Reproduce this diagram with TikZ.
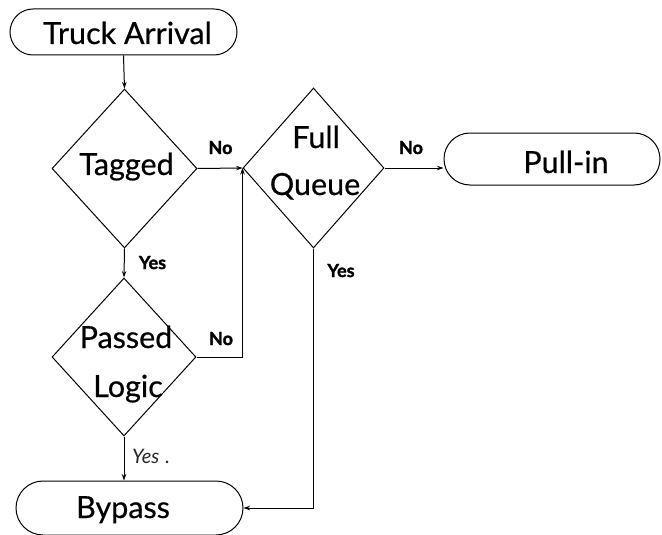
\documentclass[tikz,border=0pt]{standalone}
\usepackage{fontspec}
\setmainfont{Lato}[UprightFeatures={FakeBold=0.5}, BoldFeatures={FakeBold=1.6}]
\usetikzlibrary{shapes.geometric,shapes.misc,arrows.meta}

\tikzset{
  flow/.style={draw=black, line width=1pt},
  arr/.style={flow, -{Stealth[length=6.5pt,width=4.5pt]}},
  terminal/.style={rounded rectangle, draw=black, line width=1pt, inner sep=0pt},
  decision/.style={diamond, draw=black, line width=1pt, inner sep=0pt},
  caption/.style={anchor=base, inner sep=0pt, font=\fontsize{30.5}{33}\selectfont},
  answer/.style={anchor=base, inner sep=0pt, font=\fontsize{18}{20}\selectfont\bfseries},
  softanswer/.style={anchor=base west, inner sep=0pt, text=black!85, font=\fontsize{20}{22}\selectfont\itshape\mdseries},
}

\begin{document}
\begin{tikzpicture}[x=1pt, y=-1pt]
\useasboundingbox (0,0) rectangle (662,535);

% terminals
\node[terminal, minimum width=227pt, minimum height=46pt] (truck) at (123.5,32) {};
\node[terminal, minimum width=216pt, minimum height=52pt] (pull) at (552,159) {};
\node[terminal, minimum width=227pt, minimum height=54pt] (bypass) at (129.5,508) {};

% decisions
\node[decision, minimum width=145pt, minimum height=159pt] (tagged) at (124.5,168.5) {};
\node[decision, minimum width=141pt, minimum height=160pt] (fullq) at (313.5,168) {};
\node[decision, minimum width=144pt, minimum height=158pt] (passed) at (124,357) {};

% texts
\node[caption] (truck-t) at (127.5,44) {Truck Arrival};
\node[caption] (pull-t) at (566,173) {Pull-in};
\node[caption] (bypass-t) at (123,518) {Bypass};
\node[caption] (tagged-t) at (126.5,175) {Tagged};
\node[caption] (fullq-t1) at (316,148) {Full};
\node[caption] (fullq-t2) at (315,195) {Queue};
\node[caption] (passed-t1) at (126,348) {Passed};
\node[caption] (passed-t2) at (128,397) {Logic};

% connectors
\draw[arr] (truck.south) -- (tagged.north);
\draw[arr] (tagged.east) -- (fullq.west);
\draw[arr] (fullq.east) -- (fullq.east -| pull.west);
\draw[arr] (tagged.south) -- (passed.north);
\draw[arr] (passed.east) -- (passed.east -| fullq.west) -- (fullq.west);
\draw[arr] (passed.south) -- (passed.south |- bypass.north);
\draw[arr] (fullq.south) -- (fullq.south |- bypass.east) -- (bypass.east);

% branch labels
\node[answer] (no1) at (220.5,154) {No};
\node[answer] (no2) at (411,154) {No};
\node[answer] (yes1) at (152.5,269) {Yes};
\node[answer] (yes2) at (341,277) {Yes};
\node[answer] (no3) at (221,345) {No};
\node[softanswer] (yes3) at (132,463) {Yes\hspace{6pt}.};
\end{tikzpicture}
\end{document}
